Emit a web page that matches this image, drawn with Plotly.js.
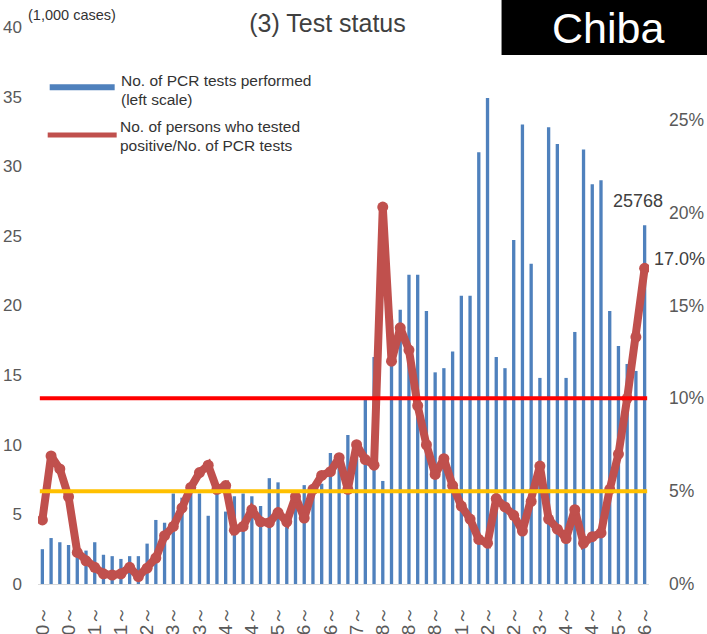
<!DOCTYPE html>
<html><head><meta charset="utf-8">
<script src="https://cdn.plot.ly/plotly-3.0.1.min.js"></script>
<style>html,body{margin:0;padding:0;background:#fff;} #chart{width:707px;height:634px;}</style>
</head><body><div id="chart"></div>
<script>
// Week start dates (weekly data)
const weeks = ["3/30","4/6","4/13","4/20","4/27","5/4","5/11","5/18","5/25","6/1",
"6/8","6/15","6/22","6/29","7/6","7/13","7/20","7/27","8/3","8/10",
"8/17","8/24","8/31","9/7","9/14","9/21","9/28","10/5","10/12","10/19",
"10/26","11/2","11/9","11/16","11/23","11/30","12/7","12/14","12/21","12/28",
"1/4","1/11","1/18","1/25","2/1","2/8","2/15","2/22","3/1","3/8",
"3/15","3/22","3/29","4/5","4/12","4/19","4/26","5/3","5/10","5/17",
"5/24","5/31","6/7","6/14","6/21","6/28","7/5","7/12","7/19","7/26"];

// Number of PCR tests performed (1,000 cases)
const pcrTests = [2.5,3.3,3.0,2.8,2.6,2.4,3.0,2.1,2.0,1.8,
2.0,2.0,2.9,4.6,4.4,6.5,6.2,6.9,6.5,4.9,
6.6,5.2,6.3,6.5,6.3,5.6,7.6,7.3,4.3,5.6,
7.1,6.5,7.2,9.4,8.6,10.7,9.8,13.4,16.3,7.4,
19.0,19.7,22.2,22.2,19.6,15.2,15.5,16.7,20.7,20.7,
31.0,34.9,16.3,15.5,24.7,33.0,23.0,14.8,32.8,31.6,
14.8,18.1,31.2,28.7,29.0,19.6,17.1,15.8,15.3,25.768];

// Positive rate (%)
const positiveRate = [3.45,6.9,6.2,4.7,1.7,1.25,0.9,0.55,0.48,0.55,
0.9,0.4,0.85,1.4,2.6,3.1,4.1,5.2,6.0,6.4,
5.1,5.3,2.9,3.1,4.0,3.35,3.3,3.85,3.35,4.7,
3.55,5.1,5.85,6.05,6.8,5.1,7.5,6.7,6.4,20.3,
12.0,13.8,12.6,9.6,7.5,5.9,6.75,5.3,4.2,3.5,
2.4,2.2,4.6,4.15,3.7,2.85,4.45,6.35,3.5,2.95,
2.45,4.0,2.2,2.55,2.75,5.1,7.0,10.0,13.3,17.0];

const leftTicks = [0,5,10,15,20,25,30,35,40];
const rightTicks = [0,5,10,15,20,25];
const thresholdHigh = 10;
const thresholdLow = 5;
const labelledWeeks = ["3/30","4/20","5/11","6/1","6/22","7/13","8/3","8/24","9/14","10/5",
"10/26","11/16","12/7","12/28","1/18","2/8","3/1","3/22","4/12","5/3","5/24","6/14","7/5","7/26"];

const FONT = 'Liberation Sans, Arial, sans-serif';
const GRAY = '#595959';
const TXT = '#404040';

// plot area in pixels
const PL = 38.3, PR = 649.5, PT = 27, PB = 584;
const px = v => (v - PL) / (PR - PL);
const py = v => (PB - v) / (PB - PT);

const last = weeks.length - 1;

const traces = [
  {type:'bar', x:weeks, y:pcrTests, yaxis:'y', marker:{color:'#4F81BD'}, width:0.38, hoverinfo:'skip'},
  {type:'scatter', mode:'lines+markers', x:weeks, y:positiveRate, yaxis:'y2',
   line:{color:'#C0504D', width:8}, marker:{color:'#C0504D', size:11}, hoverinfo:'skip'}
];

const layout = {
  width:707, height:634,
  margin:{l:PL, r:707-PR, t:PT, b:634-PB},
  paper_bgcolor:'#fff', plot_bgcolor:'#fff',
  showlegend:false,
  font:{family:FONT, color:TXT},
  title:{text:'(3) Test status', font:{family:FONT, size:25, color:TXT},
         xref:'container', yref:'container', x:327.5/707, xanchor:'center', y:1-23/634, yanchor:'middle'},
  xaxis:{type:'category', range:[-0.5, last+0.5], tickmode:'array',
         tickvals:labelledWeeks, ticktext:labelledWeeks.map(w => w + '～'),
         tickangle:-90, tickfont:{family:FONT, size:19, color:GRAY},
         showline:true, linecolor:'#D9D9D9', linewidth:1, ticks:'', showgrid:false,
         ticklabelstandoff:13, fixedrange:true},
  yaxis:{range:[0,40], tickmode:'array', tickvals:leftTicks, showgrid:false, zeroline:false,
         tickfont:{family:FONT, size:17, color:GRAY}, ticklabelstandoff:15, fixedrange:true},
  yaxis2:{range:[0,30], overlaying:'y', side:'right', tickmode:'array', tickvals:rightTicks,
          ticktext:rightTicks.map(v => v + '%'), showgrid:false, zeroline:false,
          tickfont:{family:FONT, size:17.5, color:GRAY}, ticklabelstandoff:19, fixedrange:true},
  shapes:[
    {type:'line', xref:'paper', yref:'y2', x0:0.003, x1:0.997, y0:thresholdHigh, y1:thresholdHigh,
     line:{color:'#FF0000', width:4}, layer:'above'},
    {type:'line', xref:'paper', yref:'y2', x0:0.003, x1:0.997, y0:thresholdLow, y1:thresholdLow,
     line:{color:'#FFC000', width:4}, layer:'above'},
    // Chiba box
    {type:'rect', xref:'paper', yref:'paper', x0:px(502), x1:px(710), y0:py(55), y1:py(-5),
     fillcolor:'#000', line:{width:0}, layer:'above'},
    // legend samples
    {type:'line', xref:'paper', yref:'paper', x0:px(50), x1:px(115), y0:py(87.3), y1:py(87.3),
     line:{color:'#4F81BD', width:6}, layer:'above'},
    {type:'line', xref:'paper', yref:'paper', x0:px(48), x1:px(117), y0:py(135), y1:py(135),
     line:{color:'#C0504D', width:5}, layer:'above'}
  ],
  annotations:[
    {xref:'paper', yref:'paper', x:px(608), y:py(28), text:'Chiba', showarrow:false,
     xanchor:'center', yanchor:'middle', font:{family:FONT, size:43, color:'#fff'}},
    {xref:'paper', yref:'paper', x:px(26), y:py(15), text:'(1,000 cases)', showarrow:false,
     xanchor:'left', yanchor:'middle', font:{family:FONT, size:14.5, color:'#333'}},
    {xref:'paper', yref:'paper', x:px(119), y:py(80.7), text:'No. of PCR tests performed', showarrow:false,
     xanchor:'left', yanchor:'middle', font:{family:FONT, size:15.5, color:'#333'}},
    {xref:'paper', yref:'paper', x:px(119), y:py(99), text:'(left scale)', showarrow:false,
     xanchor:'left', yanchor:'middle', font:{family:FONT, size:15.5, color:'#333'}},
    {xref:'paper', yref:'paper', x:px(118), y:py(126), text:'No. of persons who tested', showarrow:false,
     xanchor:'left', yanchor:'middle', font:{family:FONT, size:15.5, color:'#333'}},
    {xref:'paper', yref:'paper', x:px(118), y:py(145), text:'positive/No. of PCR tests', showarrow:false,
     xanchor:'left', yanchor:'middle', font:{family:FONT, size:15.5, color:'#333'}},
    {xref:'x', yref:'y', x:weeks[last], y:pcrTests[last], text:String(Math.round(pcrTests[last]*1000)),
     showarrow:false, xanchor:'center', yanchor:'bottom', xshift:-7, yshift:12,
     font:{family:FONT, size:18, color:TXT}},
    {xref:'x', yref:'y2', x:weeks[last], y:positiveRate[last], text:positiveRate[last].toFixed(1)+'%',
     showarrow:false, xanchor:'left', yanchor:'middle', xshift:7, yshift:9,
     font:{family:FONT, size:18, color:TXT}}
  ]
};

Plotly.newPlot('chart', traces, layout, {displayModeBar:false, staticPlot:true});
</script>
</body></html>
